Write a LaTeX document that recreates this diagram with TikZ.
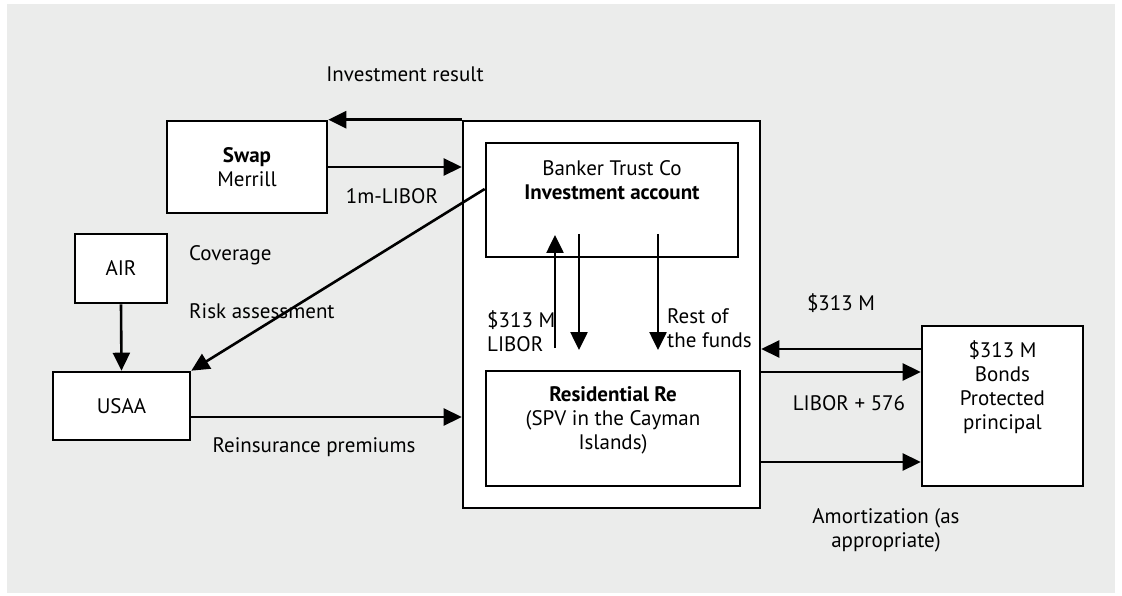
\documentclass[tikz,border=0pt]{standalone}
\usepackage{fontspec}
\setmainfont{PT Sans}
\usetikzlibrary{arrows.meta,calc}
\definecolor{bg}{HTML}{EBECEB}
\begin{document}
\begin{tikzpicture}[x=1pt,y=-1pt,
  txt/.style={inner sep=0pt, font=\fontsize{21}{24}\selectfont},
  box/.style={draw, fill=white, line width=2.6pt, inner sep=0pt, align=center, font=\fontsize{21}{24}\selectfont},
  arr/.style={line width=2.6pt, -{Triangle[length=18pt,width=17pt]}}]
\useasboundingbox (0,0) rectangle (1122,596);
\fill[bg] (7,4) rectangle (1115,593);
% boxes
\node[box, minimum width=297pt, minimum height=387pt] (outer) at (611.5,314.5) {};
\node[box, minimum width=252pt, minimum height=114pt] (banker) at (612,200) {};
\node[box, minimum width=254pt, minimum height=115pt] (resid) at (613,428.5) {};
\node[box, minimum width=160pt, minimum height=92pt] (swap) at (247,167) {\textbf{Swap}\\Merrill};
\node[box, minimum width=92pt, minimum height=69pt] (air) at (121,268.5) {AIR};
\node[box, minimum width=137pt, minimum height=68pt] (usaa) at (121.5,406) {USAA};
\node[box, minimum width=161pt, minimum height=160pt] (bonds) at (1002.5,406) {};
% texts inside boxes (base anchor = baseline of the last line)
\node[txt, align=center, anchor=base] (bankertxt) at (612,200) {Banker Trust Co\\\textbf{Investment account}};
\node[txt, align=center, anchor=base] (residtxt) at (613,449) {\textbf{Residential Re}\\(SPV in the Cayman\\Islands)};
\node[txt, align=center, anchor=base] (bondstxt) at (1002.5,429) {\$313 M\\Bonds\\Protected\\principal};
% labels
\node[txt, anchor=base] (invres) at (405,82) {Investment result};
\node[txt, anchor=base] (libor1) at (392,204) {1m-LIBOR};
\node[txt, anchor=base west] (coverage) at (189,261) {Coverage};
\node[txt, anchor=base west] (risk) at (189,318) {Risk assessment};
\node[txt, anchor=base] (reins) at (314,452) {Reinsurance premiums};
\node[txt, align=left, anchor=base west] (lbl313) at (487,351) {\$313 M\\LIBOR};
\node[txt, align=left, anchor=base west] (rest) at (667,347) {Rest of\\the funds};
\node[txt, anchor=base] (bond313) at (841,310) {\$313 M};
\node[txt, anchor=base] (liborplus) at (849,410) {LIBOR + 576};
\node[txt, align=center, anchor=base] (amort) at (886,547) {Amortization (as\\appropriate)};
% free ends of the inner arrows
\coordinate (upS) at (555,348);
\coordinate (upE) at (555,235);
\coordinate (dnAS) at (579,234);
\coordinate (dnAE) at (579,350);
\coordinate (dnBS) at (658,234);
\coordinate (dnBE) at (658,350);
% connectors
\draw[arr] (outer.north west) -- (outer.north west -| swap.east);
\draw[arr] (swap.east) -- (swap.east -| outer.west);
\draw[arr] ([yshift=11pt]banker.west) -- (usaa.north east);
\draw[arr] (air.south) -- (usaa.north);
\draw[arr] ([yshift=-11pt]usaa.east) -- ([yshift=-11pt]usaa.east -| outer.west);
\draw[arr] (upS) -- (upE);
\draw[arr] (dnAS) -- (dnAE);
\draw[arr] (dnBS) -- (dnBE);
\draw[arr] (bonds.west |- 0,349) -- (outer.east |- 0,349);
\draw[arr] (outer.east |- 0,372) -- (bonds.west |- 0,372);
\draw[arr] (outer.east |- 0,462) -- (bonds.west |- 0,462);
\end{tikzpicture}
\end{document}
